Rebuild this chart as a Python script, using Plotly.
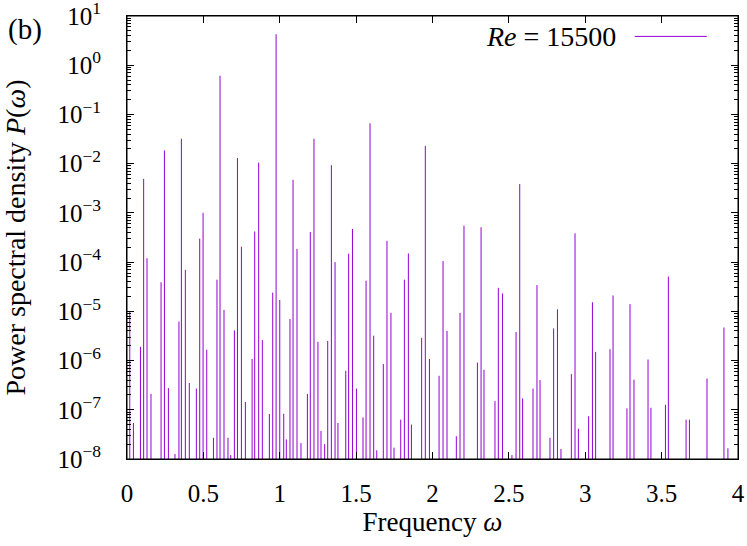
import plotly.graph_objects as go

# Spectrum peaks (frequency, power spectral density)
freq = [0.018, 0.042, 0.088, 0.109, 0.131, 0.157, 0.223, 0.245, 0.271, 0.314,
        0.340, 0.356, 0.382, 0.408, 0.454, 0.476, 0.498, 0.522, 0.566, 0.589,
        0.609, 0.635, 0.661, 0.679, 0.703, 0.723, 0.749, 0.775, 0.819, 0.836,
        0.862, 0.886, 0.932, 0.954, 0.976, 1.000, 1.026, 1.043, 1.067, 1.087,
        1.113, 1.139, 1.181, 1.200, 1.224, 1.250, 1.270, 1.294, 1.314, 1.338,
        1.362, 1.381, 1.432, 1.451, 1.476, 1.502, 1.545, 1.565, 1.591, 1.615,
        1.635, 1.678, 1.702, 1.728, 1.748, 1.792, 1.816, 1.842, 1.862, 1.929,
        1.953, 1.980, 2.043, 2.069, 2.095, 2.156, 2.180, 2.206, 2.294, 2.318,
        2.337, 2.409, 2.431, 2.458, 2.520, 2.547, 2.571, 2.590, 2.658, 2.684,
        2.704, 2.769, 2.793, 2.818, 2.841, 2.909, 2.933, 2.955, 3.022, 3.047,
        3.068, 3.162, 3.182, 3.273, 3.293, 3.319, 3.411, 3.430, 3.525, 3.544,
        3.660, 3.682, 3.797, 3.908, 3.934]
psd = [1e-5, 5.4e-8, 1.9e-6, 4.9e-3, 1.2e-4, 2.1e-7, 3.9e-5, 1.86e-2, 2.75e-7, 1.26e-8,
       6.2e-6, 3.2e-2, 7e-5, 3.5e-7, 2.7e-7, 3e-4, 1e-3, 1.66e-6, 2.7e-8, 4.4e-5,
       0.61, 1.07e-5, 2.7e-8, 1.2e-8, 4.1e-6, 1.3e-2, 2.06e-4, 1.44e-7, 1.08e-6, 4.2e-4,
       1.05e-2, 2.6e-6, 8.2e-8, 2.4e-5, 4.26, 1.7e-5, 8.3e-8, 2.5e-8, 7e-6, 4.7e-3,
       1.85e-4, 2.1e-8, 2.1e-7, 4.1e-4, 3.2e-2, 2.4e-6, 3.7e-8, 2e-8, 2.5e-6, 9.3e-3,
       1e-4, 5.4e-8, 6.2e-7, 1.48e-4, 4.7e-4, 2.7e-7, 7e-8, 4.2e-5, 6.6e-2, 3.2e-6,
       1.5e-8, 8.5e-7, 2.7e-4, 9.3e-6, 1.7e-8, 6.3e-8, 4.4e-5, 1.5e-4, 5e-8, 2.9e-6,
       2.3e-2, 1.08e-6, 4.9e-7, 1.05e-4, 4e-6, 2.9e-8, 9.3e-6, 5.5e-4, 9.1e-7, 5.1e-4,
       6.5e-7, 1.5e-7, 3e-5, 2.3e-5, 1.2e-8, 3.8e-6, 3.85e-3, 1.7e-7, 2.7e-7, 3.4e-5,
       4e-7, 2.7e-8, 4.5e-6, 1.1e-5, 1.6e-8, 5.3e-7, 3.85e-4, 4.1e-8, 7.4e-8, 1.53e-5,
       1.5e-6, 1.7e-6, 2.1e-5, 1.07e-7, 1.4e-5, 4.1e-7, 1.05e-6, 1.1e-7, 1.26e-7, 5.1e-5,
       6.3e-8, 6.3e-8, 4.3e-7, 4.7e-6, 1.65e-8]
psd_floor = 1e-9  # background level of the spectrum (below the plotted range)

x_tick_vals = [0, 0.5, 1, 1.5, 2, 2.5, 3, 3.5, 4]
x_tick_text = ["0", "0.5", "1", "1.5", "2", "2.5", "3", "3.5", "4"]
y_exponents = [-8, -7, -6, -5, -4, -3, -2, -1, 0, 1]
y_tick_vals = [10.0 ** e for e in y_exponents]
y_tick_text = ["10<sup>" + ("−" + str(-e) if e < 0 else str(e)) + "</sup>" for e in y_exponents]
y_minor_vals = [k * 10.0 ** e for e in y_exponents[:-1] for k in range(2, 10)]

series_name = "<i>Re</i> = 15500"
line_color = "#9400D3"

xs, ys = [], []
for f, p in zip(freq, psd):
    xs += [f, f, None]
    ys += [psd_floor, p, None]

FONT = "Liberation Serif"

fig = go.Figure()
fig.add_trace(go.Scatter(x=xs, y=ys, mode="lines", connectgaps=False,
                         line=dict(color=line_color, width=1), showlegend=False,
                         hoverinfo="skip"))
# empty trace so that the mirrored (top / right) frame axes exist
fig.add_trace(go.Scatter(x=[], y=[], xaxis="x2", yaxis="y2", showlegend=False,
                         hoverinfo="skip"))

fig.update_layout(
    width=747, height=546,
    margin=dict(l=127, r=9, t=16, b=87),
    paper_bgcolor="white", plot_bgcolor="white",
    font=dict(family=FONT, size=25, color="black"),
    showlegend=False,
)
common_x = dict(range=[0, 4], tickmode="array", tickvals=x_tick_vals,
                ticks="inside", ticklen=7, tickwidth=1, tickcolor="black",
                showline=True, linecolor="black", linewidth=1,
                showgrid=False, zeroline=False, automargin=False)
common_y = dict(type="log", range=[-8, 1], tickmode="array", tickvals=y_tick_vals,
                ticks="inside", ticklen=7, tickwidth=1, tickcolor="black",
                showline=True, linecolor="black", linewidth=1,
                showgrid=False, zeroline=False, automargin=False,
                minor=dict(tickmode="array", tickvals=y_minor_vals, ticks="inside", ticklen=4,
                           tickcolor="black", tickwidth=1, showgrid=False))

fig.update_layout(
    xaxis=dict(**common_x, ticktext=x_tick_text, ticklabelstandoff=12,
               ticklabeloverflow="allow", tickfont=dict(size=25),
               title=dict(text="Frequency <i>ω</i>", standoff=3, font=dict(size=27))),
    yaxis=dict(**common_y, ticktext=y_tick_text, ticklabelstandoff=20,
               ticklabeloverflow="allow", tickfont=dict(size=25),
               title=dict(text="Power spectral density <i>P</i>(<i>ω</i>)", standoff=28,
                          font=dict(size=28))),
    xaxis2=dict(**common_x, overlaying="x", side="top", anchor="y2", showticklabels=False),
    yaxis2=dict(**common_y, overlaying="y", side="right", anchor="x2", showticklabels=False),
)

# plot frame
fig.add_shape(type="rect", xref="paper", yref="paper", x0=0, x1=1, y0=0, y1=1,
              line=dict(color="black", width=1), fillcolor="rgba(0,0,0,0)", layer="above")

fig.add_annotation(text="(b)", xref="paper", yref="paper", x=-0.167, y=0.970,
                   xanchor="center", yanchor="middle", showarrow=False,
                   font=dict(size=29, family=FONT))
fig.add_annotation(text=series_name, xref="paper", yref="paper", x=0.803, y=0.954,
                   xanchor="right", yanchor="middle", showarrow=False,
                   font=dict(size=28, family=FONT))
fig.add_shape(type="line", xref="paper", yref="paper", x0=0.831, x1=0.949, y0=0.954, y1=0.954,
              line=dict(color=line_color, width=1))

fig.write_html("out.html", config={"displayModeBar": False},
               post_script="document.body.style.margin='0';document.body.style.padding='0';")
